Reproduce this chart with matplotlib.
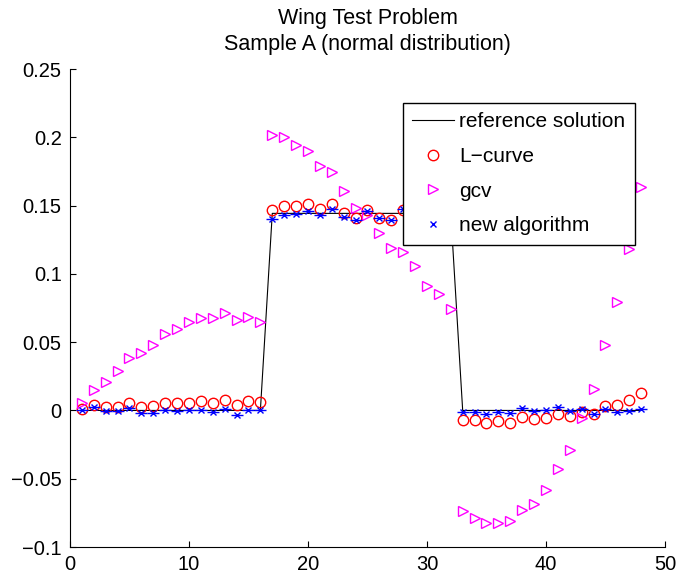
import matplotlib
matplotlib.use("Agg")
import matplotlib.pyplot as plt

plt.rcParams['font.family'] = ['Liberation Sans', 'DejaVu Sans']

x = list(range(1, 49))

reference = [0.0, 0.0, 0.0, 0.0, 0.0, 0.0, 0.0, 0.0, 0.0, 0.0, 0.0, 0.0, 0.0, 0.0, 0.0, 0.0,
             0.1443, 0.1443, 0.1443, 0.1443, 0.1443, 0.1443, 0.1443, 0.1443,
             0.1443, 0.1443, 0.1443, 0.1443, 0.1443, 0.1443, 0.1443, 0.1443,
             0.0, 0.0, 0.0, 0.0, 0.0, 0.0, 0.0, 0.0, 0.0, 0.0, 0.0, 0.0, 0.0, 0.0, 0.0, 0.0]

lcurve = [0.0012, 0.0039, 0.0022, 0.0027, 0.0051, 0.0027, 0.0031, 0.0056,
          0.0053, 0.0058, 0.0068, 0.0058, 0.0080, 0.0039, 0.0070, 0.0065,
          0.1470, 0.1495, 0.1495, 0.1510, 0.1475, 0.1514, 0.1446, 0.1412,
          0.1470, 0.1410, 0.1393, 0.1470, 0.1460, 0.1430, 0.1480, 0.1450,
          -0.0073, -0.0073, -0.0090, -0.0080, -0.0090, -0.0051, -0.0063, -0.0053,
          -0.0024, -0.0041, -0.0010, -0.0024, 0.0031, 0.0041, 0.0078, 0.0129]

gcv = [0.0053, 0.0150, 0.0206, 0.0286, 0.0383, 0.0419, 0.0482, 0.0557,
       0.0598, 0.0644, 0.0676, 0.0678, 0.0710, 0.0664, 0.0681, 0.0649,
       0.2018, 0.2003, 0.1945, 0.1897, 0.1793, 0.1749, 0.1604, 0.1483,
       0.1434, 0.1296, 0.1187, 0.1163, 0.1061, 0.0913, 0.0853, 0.0746,
       -0.0739, -0.0787, -0.0824, -0.0824, -0.0811, -0.0731, -0.0683, -0.0581,
       -0.0429, -0.0286, -0.0056, 0.0155, 0.0480, 0.0795, 0.1180, 0.1633]

new_alg = [0.0005, 0.0027, -0.0002, -0.0005, 0.0020, -0.0020, -0.0020, 0.0000,
           -0.0005, 0.0000, 0.0002, -0.0012, 0.0010, -0.0034, 0.0000, 0.0000,
           0.1405, 0.1434, 0.1439, 0.1460, 0.1429, 0.1473, 0.1417, 0.1393,
           0.1458, 0.1410, 0.1393, 0.1475, 0.1445, 0.1460, 0.1435, 0.1450,
           -0.0012, -0.0012, -0.0024, -0.0012, -0.0022, 0.0017, -0.0002, 0.0000,
           0.0024, -0.0005, 0.0012, -0.0024, 0.0010, -0.0010, -0.0002, 0.0012]

labels = ['reference solution', 'L\u2212curve', 'gcv', 'new algorithm']
title = 'Wing Test Problem\nSample A (normal distribution)'
xticks = [0, 10, 20, 30, 40, 50]
yticks = [-0.1, -0.05, 0, 0.05, 0.1, 0.15, 0.2, 0.25]
yticklabels = ['\u22120.1', '\u22120.05', '0', '0.05', '0.1', '0.15', '0.2', '0.25']

fig = plt.figure(figsize=(6.78, 5.81), dpi=100)
ax = fig.add_axes([0.1032, 0.0585, 0.8776, 0.8227])

ax.plot(x, reference, color='black', lw=0.8, label=labels[0], zorder=2)
ax.plot(x, lcurve, ls='none', marker='o', ms=7.5, mfc='none', mec='#ff0000',
        mew=1.0, label=labels[1], zorder=3)
ax.plot(x, gcv, ls='none', marker='>', ms=7.5, mfc='none', mec='#ff00ff',
        mew=1.0, label=labels[2], zorder=3)
ax.plot(x, new_alg, ls='none', marker='_', ms=8, mec='#0000ff', mew=1.0, zorder=4)
ax.plot(x, new_alg, ls='none', marker='x', ms=5, mec='#0000ff', mew=1.0,
        label=labels[3], zorder=4)

ax.set_xlim(0, 50)
ax.set_ylim(-0.1, 0.25)
ax.set_xticks(xticks)
ax.set_xticklabels([str(t) for t in xticks])
ax.set_yticks(yticks)
ax.set_yticklabels(yticklabels)
ax.tick_params(direction='in', length=4, width=0.8, labelsize=14.5, pad=6)
ax.spines['top'].set_visible(False)
ax.spines['right'].set_visible(False)
ax.set_title(title, fontsize=15.5, pad=14, linespacing=1.3)

leg = ax.legend(loc='upper left', bbox_to_anchor=(0.5597, 0.929), fontsize=15,
                frameon=True, fancybox=False, shadow=False, framealpha=1,
                edgecolor='black', borderpad=0.45, labelspacing=0.75,
                handlelength=2.0, handletextpad=0.25, borderaxespad=0.0)
leg.get_frame().set_linewidth(1.0)

fig.savefig('out.png', dpi=100)
